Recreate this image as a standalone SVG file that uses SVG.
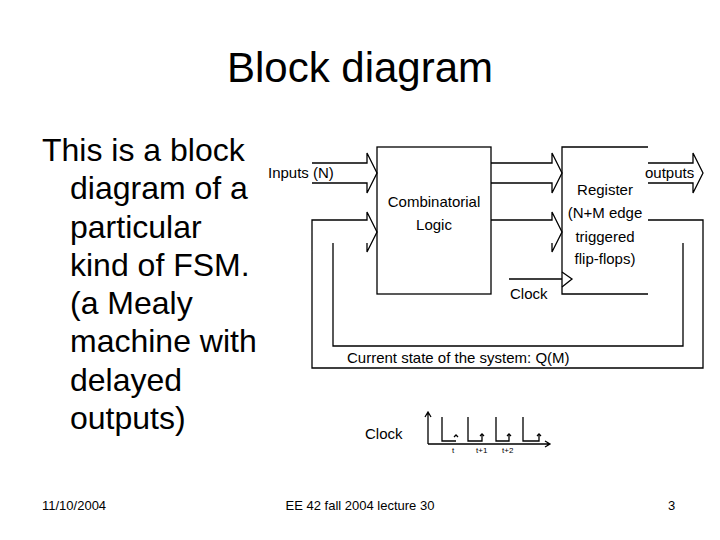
<svg xmlns="http://www.w3.org/2000/svg" width="720" height="540" viewBox="0 0 720 540">
<style>
text{font-family:"Liberation Sans",Arial,sans-serif;fill:#000}
.l{fill:none;stroke:#000;stroke-width:1.3}
.s{font-size:15px}
.b{font-size:32px}
.f{font-size:13px}
</style>
<rect width="720" height="540" fill="#fff"/>
<text x="360" y="82" font-size="42" text-anchor="middle">Block diagram</text>
<g class="b"><text x="42" y="161">This is a block</text><text x="70" y="199">diagram of a</text><text x="70" y="238">particular</text><text x="70" y="276">kind of FSM.</text><text x="70" y="314">(a Mealy</text><text x="70" y="352">machine with</text><text x="70" y="391">delayed</text><text x="70" y="429">outputs)</text></g>
<g id="comb"><rect class="l" x="377" y="147" width="114" height="147"/><text class="s" x="434" y="207" text-anchor="middle">Combinatorial</text><text class="s" x="434" y="230" text-anchor="middle">Logic</text></g>
<g id="register"><path class="l" d="M648,147H562V294H648"/><text class="s" x="605" y="195" text-anchor="middle">Register</text><text class="s" x="605" y="218" text-anchor="middle">(N+M edge</text><text class="s" x="605" y="242" text-anchor="middle">triggered</text><text class="s" x="605" y="264" text-anchor="middle">flip-flops)</text></g>
<g id="connectors">
<path class="l" d="M312,163H367V153L377,173L367,193V183H312"/>
<path class="l" d="M491,163H552V153L562,173L552,193V183H491"/>
<path class="l" d="M648,163H693V153L703,173L693,193V183H648"/>
<path class="l" d="M491,220H552V212L562,232L552,252V243"/>
<path class="l" d="M509,279H562M562,272L572,279L562,287"/>
<path class="l" d="M648,220H703V368H312V220H367V212L377,232L367,252V243"/>
<path class="l" d="M333,243V346H683V243"/>
</g>
<text class="s" x="268" y="178">Inputs (N)</text>
<text class="s" x="645" y="178">outputs</text>
<text class="s" x="510" y="299">Clock</text>
<text class="s" x="347" y="363">Current state of the system: Q(M)</text>
<g id="clock">
<text class="s" x="365" y="439">Clock</text>
<path class="l" d="M428,444V413M425,417L428,412L431,417M428,444H549M545,441L550,444L545,447" stroke-width="1"/>
<path class="l" d="M442,417V441H456M468,417V441H482V434M496,417V441H509V434M523,417V441H539V434" stroke-width="1"/>
<path class="l" d="M454,437L456,435L458,437M480,436L482,434L484,436M507,436L509,434L511,436M537,436L539,434L541,436" stroke-width="1"/>
<g font-size="8"><text x="452" y="453">t</text><text x="476" y="453">t+1</text><text x="502" y="453">t+2</text></g>
</g>
<text class="f" x="42" y="510">11/10/2004</text>
<text class="f" x="360" y="510" text-anchor="middle">EE 42 fall 2004 lecture 30</text>
<text class="f" x="668" y="510">3</text>
</svg>
